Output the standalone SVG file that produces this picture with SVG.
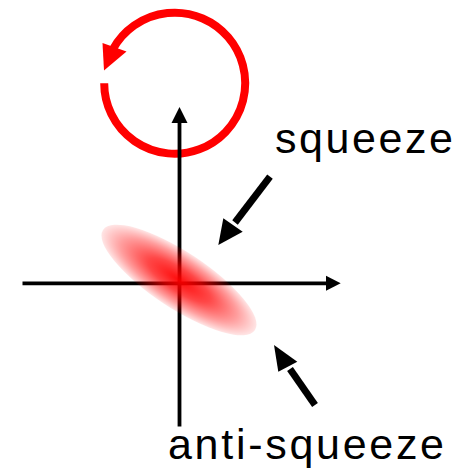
<svg xmlns="http://www.w3.org/2000/svg" width="472" height="468" viewBox="0 0 472 468">
  <style>
    .axis { stroke: #000; stroke-width: 3.8; fill: none; }
    .blk { fill: #000; }
    .ptr { stroke: #000; stroke-width: 7; fill: none; }
    .lbl { font-family: "Liberation Sans", Arial, sans-serif; font-size: 43px; fill: #000; }
  </style>
  <defs>
    <radialGradient id="blob" cx="0.5" cy="0.5" r="0.5">
      <stop offset="0" stop-color="#ff0000" stop-opacity="0.95"/>
      <stop offset="0.4" stop-color="#ff0000" stop-opacity="0.72"/>
      <stop offset="0.75" stop-color="#ff0000" stop-opacity="0.38"/>
      <stop offset="1" stop-color="#ff0000" stop-opacity="0.1"/>
    </radialGradient>
  </defs>
  <rect width="472" height="468" fill="#fff"/>

  <g id="rotation">
    <path d="M 104.2 83.3 A 70.5 70.5 0 1 0 113.0 49.1" fill="none" stroke="#ff0000" stroke-width="8"/>
    <polygon points="104,70.5 102.5,43 126.5,51.5" fill="#ff0000"/>
  </g>

  <g id="axes">
    <line class="axis" x1="22.5" y1="283.3" x2="330" y2="283.3"/>
    <polygon class="blk" points="340.7,283.3 326,275.8 326,290.8"/>
    <line class="axis" x1="179.5" y1="426.5" x2="179.5" y2="118"/>
    <polygon class="blk" points="179.5,107 171.5,123 187.5,123"/>
  </g>

  <g id="state">
    <ellipse cx="0" cy="0" rx="91" ry="28" fill="url(#blob)" transform="translate(179 280) rotate(33.4)"/>
  </g>

  <g id="connectors">
    <line class="ptr" x1="270" y1="176.7" x2="235" y2="222.5"/>
    <polygon class="blk" points="218.3,245 223.3,218.3 242.7,231.7"/>
    <line class="ptr" x1="315" y1="405" x2="290" y2="369"/>
    <polygon class="blk" points="274,345 278.3,371.7 297.3,361.7"/>
  </g>

  <g id="label-squeeze">
    <text class="lbl" x="275" y="152.7" textLength="178" lengthAdjust="spacing">squeeze</text>
  </g>
  <g id="label-anti-squeeze">
    <text class="lbl" x="168" y="459.3" textLength="276" lengthAdjust="spacing">anti-squeeze</text>
  </g>
</svg>
